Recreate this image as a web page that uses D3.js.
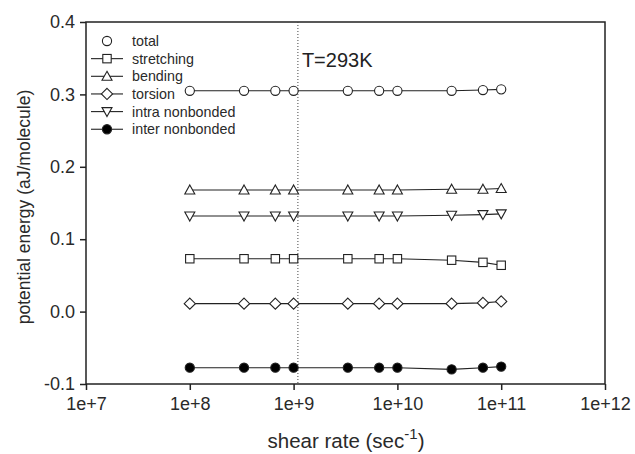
<!DOCTYPE html>
<html>
<head>
<meta charset="utf-8">
<script src="https://cdn.jsdelivr.net/npm/d3@7"></script>
<style>
  html, body { margin: 0; padding: 0; background: #fff; }
  svg { display: block; font-family: Arial, "Liberation Sans", sans-serif; }
</style>
</head>
<body>
<svg id="chart" width="635" height="454"></svg>
<script>
// Shear rates (1/s)
const shearRates = [1e8, 3.33e8, 6.67e8, 1e9, 3.33e9, 6.67e9, 1e10, 3.33e10, 6.67e10, 1e11];

// Potential energy components (aJ/molecule)
const total       = [0.305, 0.305, 0.305, 0.305, 0.305, 0.305, 0.305, 0.305, 0.306, 0.307];
const stretching  = [0.073, 0.073, 0.073, 0.073, 0.073, 0.073, 0.073, 0.071, 0.068, 0.064];
const bending     = [0.168, 0.168, 0.168, 0.168, 0.168, 0.168, 0.168, 0.169, 0.169, 0.170];
const torsion     = [0.011, 0.011, 0.011, 0.011, 0.011, 0.011, 0.011, 0.011, 0.012, 0.014];
const intraNonb   = [0.132, 0.132, 0.132, 0.132, 0.132, 0.132, 0.132, 0.133, 0.134, 0.135];
const interNonb   = [-0.0775, -0.0775, -0.0775, -0.0775, -0.0775, -0.0775, -0.0775, -0.0798, -0.0775, -0.076];

const seriesNames = ["total", "stretching", "bending", "torsion", "intra nonbonded", "inter nonbonded"];
const seriesValues = [total, stretching, bending, torsion, intraNonb, interNonb];
const seriesSymbols = ["circle", "square", "triangleUp", "diamond", "triangleDown", "filledCircle"];

const xTicks = [1e7, 1e8, 1e9, 1e10, 1e11, 1e12];
const xTickLabels = ["1e+7", "1e+8", "1e+9", "1e+10", "1e+11", "1e+12"];
const yTicks = [-0.1, 0.0, 0.1, 0.2, 0.3, 0.4];
const yTickLabels = ["-0.1", "0.0", "0.1", "0.2", "0.3", "0.4"];

const markerRate = 1.1e9;     // dotted reference line
const tempLabel = "T=293K";

const svg = d3.select("#chart");
const m = { left: 86, top: 22, right: 605, bottom: 384 };

const x = d3.scaleLog().domain([1e7, 1e12]).range([m.left, m.right]);
const y = d3.scaleLinear().domain([-0.1, 0.4]).range([m.bottom, m.top]);

const ink = "#222";
const textInk = "#2a2a2a";

// Frame
svg.append("rect")
  .attr("x", m.left).attr("y", m.top)
  .attr("width", m.right - m.left).attr("height", m.bottom - m.top)
  .attr("fill", "none").attr("stroke", ink).attr("stroke-width", 1.5);

// Axes
const xAxis = d3.axisBottom(x).tickValues(xTicks)
  .tickFormat((d, i) => xTickLabels[i]).tickSize(6).tickSizeOuter(0);
const gx = svg.append("g").attr("transform", `translate(0,${m.bottom})`).call(xAxis);
gx.select(".domain").remove();
gx.selectAll("line").attr("stroke", ink).attr("stroke-width", 1.5);
gx.selectAll("text").attr("fill", textInk).attr("font-size", 18).attr("dy", "0.95em");

const yAxis = d3.axisLeft(y).tickValues(yTicks)
  .tickFormat((d, i) => yTickLabels[i]).tickSize(6).tickPadding(5).tickSizeOuter(0);
const gy = svg.append("g").attr("transform", `translate(${m.left},0)`).call(yAxis);
gy.select(".domain").remove();
gy.selectAll("line").attr("stroke", ink).attr("stroke-width", 1.5);
gy.selectAll("text").attr("fill", textInk).attr("font-size", 18);

// Axis titles
svg.append("text")
  .attr("transform", `translate(30,${207}) rotate(-90)`)
  .attr("text-anchor", "middle").attr("fill", textInk).attr("font-size", 17.5)
  .text("potential energy (aJ/molecule)");

const xt = svg.append("text")
  .attr("x", 346).attr("y", 448)
  .attr("text-anchor", "middle").attr("fill", textInk).attr("font-size", 20.5);
xt.append("tspan").text("shear rate (sec");
xt.append("tspan").attr("font-size", 15).attr("dy", -9).text("-1");
xt.append("tspan").attr("dy", 9).text(")");

// Dotted reference line and temperature label
svg.append("line")
  .attr("x1", x(markerRate)).attr("x2", x(markerRate))
  .attr("y1", m.top).attr("y2", m.bottom)
  .attr("stroke", "#444").attr("stroke-width", 1).attr("stroke-dasharray", "1,2");
svg.append("text")
  .attr("x", x(markerRate) + 4).attr("y", 67)
  .attr("fill", ink).attr("font-size", 20).text(tempLabel);

// Marker drawing
function drawSymbol(g, kind, cx, cy) {
  const r = 4.6;
  const common = sel => sel.attr("stroke", ink).attr("stroke-width", 1.1);
  if (kind === "circle" || kind === "filledCircle") {
    common(g.append("circle").attr("cx", cx).attr("cy", cy).attr("r", r)
      .attr("fill", kind === "filledCircle" ? "#000" : "#fff"));
  } else if (kind === "square") {
    common(g.append("rect").attr("x", cx - 4.2).attr("y", cy - 4.2)
      .attr("width", 8.4).attr("height", 8.4).attr("fill", "#fff"));
  } else if (kind === "triangleUp") {
    common(g.append("path").attr("fill", "#fff")
      .attr("d", `M${cx},${cy - 5}L${cx + 5},${cy + 4}L${cx - 5},${cy + 4}Z`));
  } else if (kind === "triangleDown") {
    common(g.append("path").attr("fill", "#fff")
      .attr("d", `M${cx},${cy + 5}L${cx + 5},${cy - 4}L${cx - 5},${cy - 4}Z`));
  } else if (kind === "diamond") {
    common(g.append("path").attr("fill", "#fff")
      .attr("d", `M${cx},${cy - 5.6}L${cx + 5.6},${cy}L${cx},${cy + 5.6}L${cx - 5.6},${cy}Z`));
  }
}

const line = d3.line().x(d => x(d[0])).y(d => y(d[1]));

seriesValues.forEach((vals, si) => {
  const pts = shearRates.map((r, i) => [r, vals[i]]);
  const g = svg.append("g");
  g.append("path").attr("d", line(pts))
    .attr("fill", "none").attr("stroke", ink).attr("stroke-width", 1.1);
  pts.forEach(p => drawSymbol(g, seriesSymbols[si], x(p[0]), y(p[1])));
});

// Legend
const lg = svg.append("g");
seriesNames.forEach((name, i) => {
  const cy = 41 + i * 17.65;
  if (i > 0) {
    lg.append("line").attr("x1", 91).attr("x2", 123).attr("y1", cy).attr("y2", cy)
      .attr("stroke", ink).attr("stroke-width", 1.1);
  }
  drawSymbol(lg, seriesSymbols[i], 107, cy);
  lg.append("text").attr("x", 132).attr("y", cy).attr("dy", "0.35em")
    .attr("fill", textInk).attr("font-size", 14.3).text(name);
});
</script>
</body>
</html>
